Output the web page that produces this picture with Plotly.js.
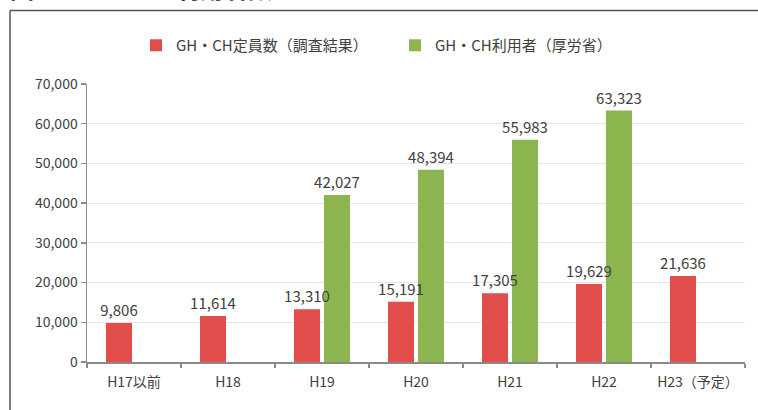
<!DOCTYPE html>
<html>
<head>
<meta charset="utf-8">
<script src="https://cdn.plot.ly/plotly-3.0.1.min.js"></script>
<style>html,body{margin:0;padding:0;background:#fff;}#chart{width:758px;height:410px;}</style>
</head>
<body>
<div id="chart"></div>
<script>
var categories = ["H17以前", "H18", "H19", "H20", "H21", "H22", "H23（予定）"];
var capacity = [9806, 11614, 13310, 15191, 17305, 19629, 21636];
var users = [null, null, 42027, 48394, 55983, 63323, null];
var seriesNames = ["GH・CH定員数（調査結果）", "GH・CH利用者（厚労省）"];
var yTicks = [0, 10000, 20000, 30000, 40000, 50000, 60000, 70000];

var FONT = "'Noto Sans CJK JP', 'Noto Sans', sans-serif";
var W = 758, H = 410, ML = 87, MR = 13, MT = 84, MB = 48;
var PW = W - ML - MR, PH = H - MT - MB;
function px(x){ return (x - ML) / PW; }
function py(y){ return (H - MB - y) / PH; }

var BAR_W = 0.2766;
// green drawn first so the red series' value labels sit on top of it
var traces = [
  {type: "bar", name: seriesNames[1], x: categories, y: users,
   width: BAR_W, offset: 0.0213,
   marker: {color: "#8CB550"},
   texttemplate: "%{y:,}", textposition: "outside", constraintext: "none", cliponaxis: false,
   textfont: {family: FONT, size: 15, color: "#404040"}, hoverinfo: "skip"},
  {type: "bar", name: seriesNames[0], x: categories, y: capacity,
   width: BAR_W, offset: -0.2979,
   marker: {color: "#E24E4B"},
   texttemplate: "%{y:,}", textposition: "outside", constraintext: "none", cliponaxis: false,
   textfont: {family: FONT, size: 15, color: "#404040"}, hoverinfo: "skip"}
];

var layout = {
  width: W, height: H,
  margin: {l: ML, r: MR, t: MT, b: MB, pad: 0},
  paper_bgcolor: "#fff", plot_bgcolor: "#fff",
  font: {family: FONT, size: 13, color: "#404040"},
  barmode: "overlay",
  showlegend: true,
  legend: {orientation: "h", traceorder: "reversed", x: px(136), xanchor: "left", y: py(29), yanchor: "top",
           font: {family: FONT, size: 15, color: "#404040"}, entrywidth: 214, itemwidth: 30,
           bgcolor: "rgba(0,0,0,0)"},
  xaxis: {type: "category", showline: true, linecolor: "#8a8a8a", linewidth: 1.5,
          ticks: "outside", tickson: "boundaries", ticklen: 4, tickcolor: "#8a8a8a", tickwidth: 1.5,
          ticklabelstandoff: 7,
          tickfont: {family: FONT, size: 14, color: "#404040"}, showgrid: false, fixedrange: true},
  yaxis: {range: [0, 70000], tickvals: yTicks, tickformat: ",", showline: true,
          linecolor: "#8a8a8a", linewidth: 1.5, ticks: "outside", ticklen: 5, tickcolor: "#8a8a8a", tickwidth: 1.5,
          gridcolor: "#e6e6e6", gridwidth: 1, zeroline: false,
          tickfont: {family: FONT, size: 14, color: "#404040"}, fixedrange: true},
  shapes: [
    {type: "line", xref: "paper", yref: "paper", x0: px(10), x1: px(10), y0: py(415), y1: py(10.5),
     line: {color: "#555", width: 1.5}},
    {type: "line", xref: "paper", yref: "paper", x0: px(10), x1: px(760), y0: py(10.5), y1: py(10.5),
     line: {color: "#555", width: 1.5}}
  ],
  annotations: [
    {xref: "paper", yref: "paper", x: px(8), y: py(7), xanchor: "left", yanchor: "bottom",
     text: "<b>図 1　GH・CH 利用者数</b>", showarrow: false,
     font: {family: FONT, size: 24, color: "#222"}}
  ]
};

Plotly.newPlot("chart", traces, layout, {staticPlot: true, displayModeBar: false});
</script>
</body>
</html>
